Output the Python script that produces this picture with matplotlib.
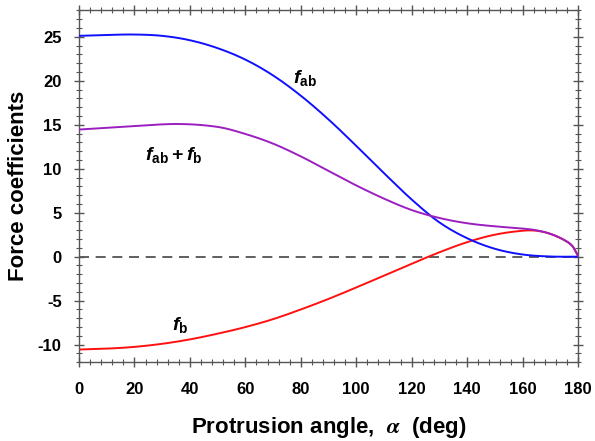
import numpy as np
import matplotlib
matplotlib.use('Agg')
import matplotlib.pyplot as plt
from matplotlib.ticker import MultipleLocator

plt.rcParams['font.family'] = ['Liberation Sans', 'DejaVu Sans']
plt.rcParams['font.weight'] = 'bold'
plt.rcParams['axes.unicode_minus'] = False
plt.rcParams['mathtext.fontset'] = 'custom'
plt.rcParams['mathtext.it'] = 'Liberation Sans:italic:bold'
plt.rcParams['mathtext.rm'] = 'Liberation Sans:bold'
plt.rcParams['mathtext.bf'] = 'Liberation Sans:bold'

# data
angle_ab = [0, 10, 20, 30, 40, 50, 60, 70, 80, 90, 100, 110, 120, 130, 140, 150, 160, 170, 180]
f_ab = [25.1, 25.2, 25.25, 25.1, 24.6, 23.7, 22.4, 20.6, 18.3, 15.6, 12.6, 9.5, 6.5, 3.9, 2.1, 0.9, 0.25, 0.02, 0.0]

angle_b = [0, 10, 20, 30, 40, 50, 60, 70, 80, 90, 100, 110, 120, 130, 140, 150, 160, 165, 170, 175, 178, 180]
f_b = [-10.55, -10.45, -10.25, -9.9, -9.4, -8.75, -8.0, -7.1, -6.0, -4.8, -3.5, -2.15, -0.8, 0.5,
       1.65, 2.5, 2.95, 2.95, 2.6, 1.9, 1.2, 0.1]

angle_sum = [0, 20, 36, 50, 60, 70, 80, 90, 100, 110, 120, 130, 140, 150, 160, 165, 170, 175, 178, 180]
f_sum = [14.45, 14.85, 15.08, 14.75, 13.95, 12.85, 11.4, 9.75, 8.1, 6.6, 5.3, 4.4, 3.8, 3.45, 3.2, 3.0,
         2.6, 1.9, 1.2, 0.1]


def smooth(x, y):
    # cubic Hermite through the read points
    x = np.asarray(x, float)
    y = np.asarray(y, float)
    xs, ys = [], []
    for i in range(len(x) - 1):
        x0 = x[i - 1] if i > 0 else x[i] - (x[i + 1] - x[i])
        y0 = y[i - 1] if i > 0 else y[i] - (y[i + 1] - y[i])
        x3 = x[i + 2] if i + 2 < len(x) else x[i + 1] + (x[i + 1] - x[i])
        y3 = y[i + 2] if i + 2 < len(y) else y[i + 1] + (y[i + 1] - y[i])
        t = np.linspace(0, 1, 20, endpoint=False)
        m1 = (y[i + 1] - y0) / (x[i + 1] - x0) * (x[i + 1] - x[i])
        m2 = (y3 - y[i]) / (x3 - x[i]) * (x[i + 1] - x[i])
        h00 = 2 * t**3 - 3 * t**2 + 1
        h10 = t**3 - 2 * t**2 + t
        h01 = -2 * t**3 + 3 * t**2
        h11 = t**3 - t**2
        xs.append(x[i] + t * (x[i + 1] - x[i]))
        ys.append(h00 * y[i] + h10 * m1 + h01 * y[i + 1] + h11 * m2)
    xs.append([x[-1]])
    ys.append([y[-1]])
    return np.concatenate(xs), np.concatenate(ys)


fig = plt.figure(figsize=(5.95, 4.41), dpi=100)
ax = fig.add_axes([0.1328, 0.1785, 0.8386, 0.7981])

ax.axhline(0, color='#444444', lw=1.2, ls=(0, (6, 4)), zorder=1)
ax.plot(*smooth(angle_ab, f_ab), color='#1010ff', lw=1.4, zorder=3)
ax.plot(*smooth(angle_sum, f_sum), color='#9b1fc0', lw=1.4, zorder=3)
ax.plot(*smooth(angle_b, f_b), color='#ff1010', lw=1.4, zorder=2)

ax.text(77.2, 19.7, r'$f_{\mathrm{ab}}$', fontsize=14, ha='left', va='baseline')
ax.text(23.8, 11.0, r'$f_{\mathrm{ab}}+f_{\mathrm{b}}$', fontsize=14, ha='left', va='baseline')
ax.text(33.5, -8.33, r'$f_{\mathrm{b}}$', fontsize=14, ha='left', va='baseline')

ax.set_xlim(0, 180)
ax.set_ylim(-12, 28)
ax.xaxis.set_major_locator(MultipleLocator(20))
ax.xaxis.set_minor_locator(MultipleLocator(4))
ax.yaxis.set_major_locator(MultipleLocator(5))
ax.yaxis.set_minor_locator(MultipleLocator(1))
ax.tick_params(which='both', direction='inout', top=True, right=True, color='#555555')
ax.tick_params(axis='x', which='major', length=7, width=1, labelsize=12, pad=11)
ax.tick_params(axis='y', which='major', length=7, width=1, labelsize=12, pad=9)
ax.tick_params(which='minor', length=4, width=0.8)
for lab in ax.get_xticklabels() + ax.get_yticklabels():
    lab.set_fontweight('bold')
for sp in ax.spines.values():
    sp.set_color('#555555')
    sp.set_linewidth(1)

ax.set_xlabel(r'Protrusion angle,  $\alpha$  (deg)', fontsize=16, fontweight='bold',
              math_fontfamily='stix', labelpad=13)
ax.set_ylabel('Force coefficients', fontsize=16, fontweight='bold', labelpad=6)

fig.savefig('out.png', dpi=100)
